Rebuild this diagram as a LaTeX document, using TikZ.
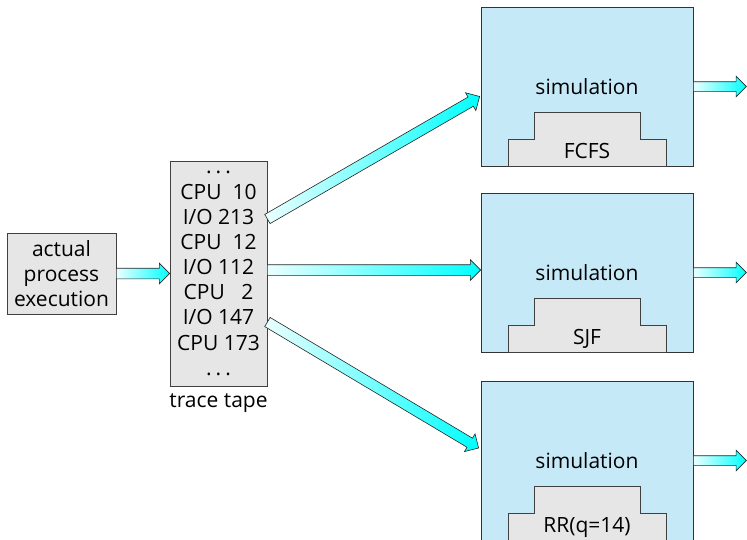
\documentclass[tikz,border=0pt]{standalone}
\usepackage{fontspec}
\setmainfont{Open Sans}
\usetikzlibrary{shapes.arrows,calc}
\definecolor{simblue}{HTML}{C6E9F8}
\definecolor{tapegray}{HTML}{E6E6E6}
% fat shaded arrow from #2 to #3
\newcommand{\fatarrow}[3][]{%
  \path let \p1=(#2), \p2=(#3), \n1={veclen(\x2-\x1,\y2-\y1)}, \n2={atan2(\y2-\y1,\x2-\x1)} in
    node[fat arrow, #1, minimum height=\n1, rotate=\n2, anchor=tail] at (\p1) {};}
\begin{document}
\begin{tikzpicture}[x=1pt,y=-1pt,
    every node/.style={font=\fontsize{21}{25.2}\selectfont},
    graybox/.style={draw=black!75, fill=tapegray, line width=0.8pt},
    simbox/.style={draw=black!80, fill=simblue, line width=0.8pt, minimum width=212pt, minimum height=159pt},
    fat arrow/.style={shape=single arrow, draw=black!85, line width=0.6pt, inner xsep=0pt, inner ysep=5pt,
        outer sep=0pt, single arrow head extend=5pt, left color=cyan!8, right color=cyan}]
\useasboundingbox (0,0) rectangle (747,539);
\node[graybox, minimum width=109pt, minimum height=81pt, inner sep=0pt, align=center] (actual) at (61.5,273.5) {actual\\process\\execution};
\node[graybox, minimum width=97pt, minimum height=225pt, inner sep=0pt, align=center] (tape) at (218.5,273.5)
    {.\hspace{4pt}.\hspace{4pt}.\\CPU\ \ 10\\I/O 213\\CPU\ \ 12\\I/O 112\\CPU\ \ \ 2\\I/O 147\\CPU 173\\.\hspace{4pt}.\hspace{4pt}.};
\node[below=4pt] (tapelabel) at (tape.south) {trace tape};
% the three simulations
\node[simbox] (sim1) at (587,86.5) {};
\node[simbox] (sim2) at (587,272.5) {};
\node[simbox] (sim3) at (587,460.5) {};
\foreach \s/\alg in {sim1/FCFS,sim2/SJF,sim3/RR(q=14)} {
    \node (\s text) at (\s) {simulation};
    \draw[graybox] ($(\s.south)+(-79,0)$) -- ++(0,-27) -- ++(26,0) -- ++(0,-27) -- ++(106,0)
        -- ++(0,27) -- ++(26,0) -- ++(0,27) -- cycle;
    \node[anchor=base, yshift=8pt] (\s alg) at (\s.south) {\alg};
    \coordinate (\s out) at ([xshift=53pt]\s.east);
}
\coordinate (t1) at ([yshift=54.5pt]tape.east);
\coordinate (t2) at ([yshift=3.5pt]tape.east);
\coordinate (t3) at ([yshift=-48.5pt]tape.east);
\coordinate (s1) at ([xshift=-1pt,yshift=-10pt]sim1.west);
\coordinate (s2) at ([yshift=2.5pt]sim2.west);
\coordinate (s3) at ([xshift=-2pt,yshift=12.5pt]sim3.west);
% arrows
\fatarrow{actual.east}{tape.west}
\fatarrow{t1}{s1}
\fatarrow{t2}{s2}
\fatarrow{t3}{s3}
\foreach \s in {sim1,sim2,sim3}
    \fatarrow[inner ysep=4.5pt, single arrow head extend=5.5pt]{\s.east}{\s out};
\end{tikzpicture}
\end{document}
